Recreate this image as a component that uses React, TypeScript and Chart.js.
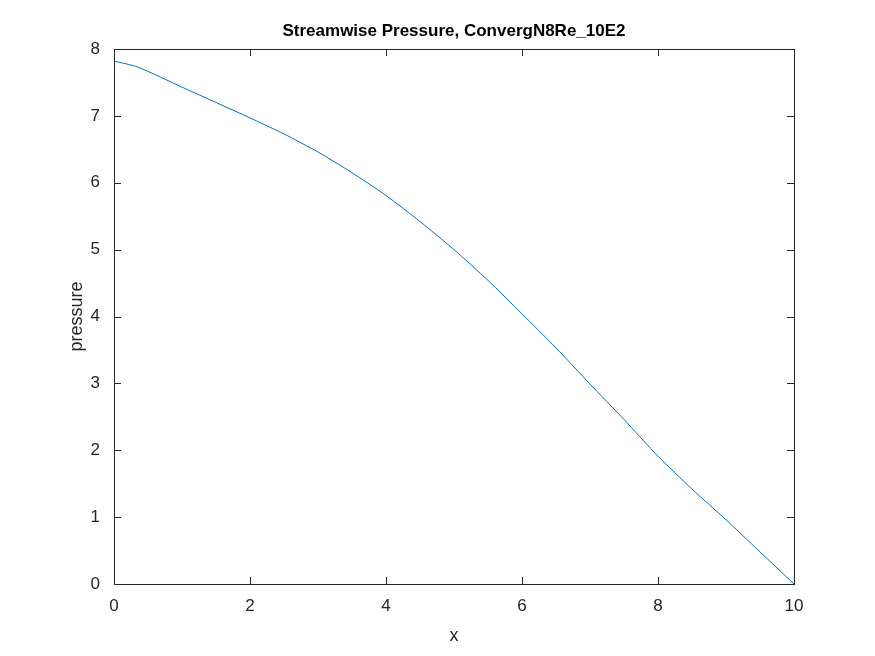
import { useEffect, useRef } from 'react';
import { Chart, registerables } from 'chart.js';

Chart.register(...registerables);

const xs = [0, 0.35, 1, 1.5, 2, 2.5, 3, 3.5, 4, 4.5, 5, 5.5, 6, 6.5, 7, 7.5, 8, 8.5, 9, 9.5, 10];
const pressure = [7.82, 7.73, 7.43, 7.2, 6.97, 6.73, 6.46, 6.15, 5.81, 5.42, 5.0, 4.54, 4.04, 3.53, 2.99, 2.46, 1.91, 1.42, 0.96, 0.48, 0];
const TITLE = 'Streamwise Pressure, ConvergN8Re_10E2';
const X_TITLE = 'x';
const Y_TITLE = 'pressure';
const FONT = 'Liberation Sans, Arial, sans-serif';

const frame = {
  id: 'frame',
  afterDraw(chart: Chart) {
    const { ctx, chartArea: a, scales } = chart;
    ctx.save();
    ctx.strokeStyle = '#262626';
    ctx.lineWidth = 1;
    ctx.strokeRect(a.left + 0.5, a.top + 0.5, a.right - a.left, a.bottom - a.top);
    const t = 7;
    ctx.beginPath();
    for (const tk of scales.x.ticks) {
      const px = Math.round(scales.x.getPixelForValue(tk.value)) + 0.5;
      ctx.moveTo(px, a.bottom); ctx.lineTo(px, a.bottom - t);
      ctx.moveTo(px, a.top); ctx.lineTo(px, a.top + t);
    }
    for (const tk of scales.y.ticks) {
      const py = Math.round(scales.y.getPixelForValue(tk.value)) + 0.5;
      ctx.moveTo(a.left, py); ctx.lineTo(a.left + t, py);
      ctx.moveTo(a.right, py); ctx.lineTo(a.right - t, py);
    }
    ctx.stroke();
    ctx.textAlign = 'center';
    ctx.textBaseline = 'middle';
    ctx.fillStyle = '#000';
    ctx.font = `bold 17px ${FONT}`;
    ctx.fillText(TITLE, (a.left + a.right) / 2, 31);
    ctx.fillStyle = '#262626';
    ctx.font = `18px ${FONT}`;
    ctx.fillText(X_TITLE, (a.left + a.right) / 2, 636);
    ctx.translate(77, (a.top + a.bottom) / 2);
    ctx.rotate(-Math.PI / 2);
    ctx.fillText(Y_TITLE, 0, 0);
    ctx.restore();
  },
};

export default function App() {
  const ref = useRef<HTMLCanvasElement>(null);
  useEffect(() => {
    document.body.style.margin = '0';
    if (!ref.current) return;
    const chart = new Chart(ref.current, {
      type: 'line',
      data: {
        datasets: [{
          data: xs.map((x, i) => ({ x, y: pressure[i] })),
          borderColor: '#0072BD',
          borderWidth: 1,
          pointRadius: 0,
          tension: 0.2,
        }],
      },
      options: {
        animation: false,
        responsive: false,
        layout: { padding: { left: 0, right: 81, top: 49, bottom: 0 } },
        plugins: { legend: { display: false }, tooltip: { enabled: false } },
        scales: {
          x: {
            type: 'linear', min: 0, max: 10,
            grid: { display: false },
            border: { display: false },
            ticks: { stepSize: 2, color: '#262626', font: { family: FONT, size: 17 }, padding: 4 },
            afterFit: (s: any) => { s.height = 72; },
          },
          y: {
            min: 0, max: 8,
            grid: { display: false },
            border: { display: false },
            ticks: { stepSize: 1, color: '#262626', font: { family: FONT, size: 17 }, padding: 6 },
            afterFit: (s: any) => { s.width = 114; },
          },
        },
      },
      plugins: [frame],
    });
    return () => chart.destroy();
  }, []);
  return <canvas ref={ref} width={875} height={656} style={{ background: '#fff', display: 'block' }} />;
}
